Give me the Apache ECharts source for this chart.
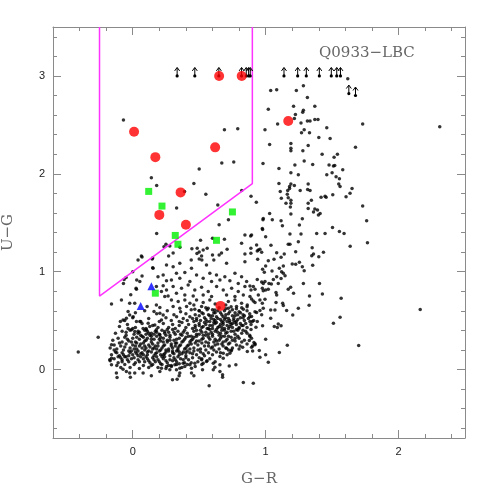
<!DOCTYPE html>
<html><head><meta charset="utf-8">
<script src="https://cdn.jsdelivr.net/npm/echarts@6/dist/echarts.min.js"></script>
<style>html,body{margin:0;padding:0;background:#fff}#c{width:491px;height:491px}</style>
</head><body><div id="c"></div>
<script>
// ---- DATA ----
const fieldGalaxies = [
[-0.07,2.55],[0.69,2.45],[0.79,2.46],[0.5,2.05],[0.67,2.11],[0.76,2.12],[0.14,1.96],[0.18,1.88],[0.46,1.9],[0.39,1.82],[0.55,1.79],[0.82,1.83],[0.89,1.77],[0.93,1.71],[0.33,1.65],[0.64,1.68],[0.72,1.53],[0.65,1.48],[0.18,1.39],[0.51,1.32],[0.69,1.33],[0.6,1.34],[0.25,1.28],[0.235,1.255],[0.445,1.235],[0.71,1.23],[0.5,1.2],[0.53,1.22],[0.355,1.25],[0.15,1.14],[0.27,1.16],[0.5,1.13],[0.52,1.12],[0.65,1.17],[0.04,1.12],[0.07,1.15],[0.0,1.0],[-0.05,0.94],[-0.07,0.88],[0.07,0.955],[0.15,1.04],[0.03,0.915],[-0.16,0.67],[-0.26,0.33],[-0.41,0.18],[-0.015,0.765],[0.025,0.83],
[1.618,2.97],[1.038,2.85],[1.083,2.86],[1.284,2.9],[1.231,2.85],[1.314,2.78],[1.02,2.66],[1.21,2.69],[1.37,2.69],[1.284,2.65],[1.279,2.63],[1.224,2.605],[1.09,2.51],[1.216,2.565],[1.266,2.52],[1.314,2.54],[1.334,2.54],[1.37,2.555],[1.394,2.555],[0.995,2.45],[1.73,2.51],[1.29,2.45],[1.27,2.42],[1.33,2.42],[1.46,2.47],[1.40,2.37],[1.485,2.36],[1.03,2.30],[1.19,2.31],[1.19,2.26],[1.19,2.235],[1.28,2.235],[1.32,2.29],[1.676,2.27],[1.425,2.20],[1.515,2.17],[1.54,2.2],[0.98,2.105],[1.10,2.055],[1.22,2.09],[1.29,2.13],[1.354,2.095],[1.477,2.09],[1.51,2.08],[1.52,2.085],[1.58,2.04],[1.19,2.01],[1.246,1.99],[1.46,1.99],[1.5,2.01],[1.53,1.97],[1.555,1.95],[1.1,1.9],[1.19,1.895],[1.18,1.87],[1.32,1.895],[1.55,1.895],[1.56,1.87],[1.65,1.85],[1.635,1.8],[1.605,1.765],[1.11,1.82],[1.166,1.83],[1.18,1.85],[1.216,1.88],[1.316,1.84],[1.334,1.83],[1.26,1.83],[1.447,1.77],[1.455,1.76],[1.505,1.785],[1.163,1.79],[1.17,1.755],[1.118,1.75],[1.19,1.73],[1.344,1.73],[1.73,1.67],[1.417,1.76],[1.153,1.70],[1.186,1.66],[1.19,1.70],[1.37,1.64],[1.36,1.61],[1.39,1.63],[1.41,1.595],[1.397,1.58],[1.32,1.645],[1.32,1.70],[1.03,1.595],[1.05,1.53],[0.98,1.53],[1.116,1.52],[1.19,1.59],[1.276,1.54],[1.384,1.39],[1.76,1.52],[0.977,1.43],[1.254,1.476],[1.183,1.384],[1.126,1.47],[1.503,1.45],[1.555,1.41],[1.59,1.39],[1.266,1.384],[1.447,1.39],[0.894,1.374],
[1.04,1.27],[1.17,1.28],[1.183,1.28],[1.246,1.306],[1.35,1.245],[1.636,1.26],[1.766,1.296],[0.937,1.21],[0.97,1.197],[0.889,1.187],[0.945,1.22],[1.083,1.194],[1.14,1.18],[1.226,1.204],[1.36,1.18],[1.347,1.163],[1.435,1.197],[1.40,1.153],[0.94,1.126],[1.02,1.112],[1.063,1.126],[1.116,1.146],[1.2,1.078],[1.226,1.075],[1.254,1.095],[1.133,1.058],[1.276,1.05],[1.29,1.01],[1.354,1.065],[1.0,1.058],[0.977,1.024],[0.99,0.993],[1.048,1.007],[1.103,1.034],[1.12,1.0],[1.133,0.983],[1.146,0.959],[1.083,0.949],[0.937,0.92],[1.116,0.929],[1.058,0.92],[0.97,0.895],[0.982,0.88],[0.995,0.898],[1.025,0.88],[1.043,0.874],[1.095,0.88],[1.284,0.88],[1.405,0.88],[0.882,0.854],[0.907,0.847],[0.92,0.82],[0.89,0.813],[0.975,0.83],[0.982,0.806],[1.0,0.813],[1.02,0.82],[1.078,0.786],[1.083,0.762],[1.17,0.82],[1.188,0.84],[1.21,0.779],[0.882,0.745],[0.894,0.72],[0.907,0.70],[0.92,0.684],[0.945,0.762],[0.957,0.711],[0.995,0.718],[1.33,0.752],[1.427,0.772],[1.568,0.728],[0.975,0.677],[0.982,0.626],[1.078,0.684],[1.128,0.677],[1.133,0.653],[1.246,0.626],[1.327,0.656],[0.957,0.602],[0.932,0.582],[1.038,0.609],[1.07,0.609],[1.158,0.602],[1.204,0.558],[1.038,0.524],[0.894,0.541],[0.882,0.49],[0.937,0.49],[0.927,0.432],[0.977,0.446],[1.065,0.439],[1.088,0.429],[1.095,0.466],[1.116,0.446],[1.51,0.473],[1.56,0.534],[0.882,0.337],[0.894,0.32],[0.912,0.276],[0.92,0.252],[0.902,0.24],[1.0,0.31],[1.163,0.248],[1.70,0.245],[0.902,0.19],[0.952,0.194],[1.0,0.15],[0.957,0.126],[1.103,0.173],[1.02,0.075],[0.907,-0.14],
[2.31,2.48],[2.163,0.612],
[0.844,1.374],[0.887,1.364],[0.819,1.289],[0.982,1.544],[0.975,1.442],[1.0,1.357],[0.889,1.238],[0.932,1.272],[0.957,1.228],[0.844,1.18],[0.485,1.238],[0.279,1.262],[0.56,1.238],[0.668,1.19],[0.304,1.19],[0.483,1.185],[0.44,1.12],[0.6,1.17],[0.61,1.12],
[0.065,1.16],[0.146,1.13],[0.153,1.034],[0.254,1.068],[0.229,0.966],[0.19,0.949],[0.254,0.908],[0.053,0.898],[-0.065,0.92],[0.028,0.82],[0.178,0.847],[0.229,0.857],[0.216,0.796],[0.254,0.813],[0.241,0.745],[0.266,0.752],[-0.085,0.71],[-0.023,0.677],[0.015,0.677],[0.108,0.643],[0.178,0.66],[0.204,0.633],[0.16,0.592],[0.204,0.575],[0.229,0.558],[-0.035,0.592],[-0.023,0.558],[0.003,0.54],[-0.093,0.49],[-0.073,0.507],[-0.048,0.524],[0.028,0.49],[0.053,0.49],[0.116,0.473],[0.128,0.439],[0.166,0.456],[0.216,0.507],[-0.035,0.42],[-0.01,0.405],[0.015,0.388],[0.04,0.371],[0.078,0.42],[0.103,0.405],[0.14,0.371],[0.178,0.405],[0.204,0.354],[0.241,0.388],
[-0.16,0.252],[-0.16,0.116],[-0.173,0.099],[-0.16,0.048],[-0.123,-0.037],[-0.118,-0.082],[-0.023,-0.037],[-0.018,-0.078],[-0.073,0.003],[-0.048,-0.02],[0.015,-0.037],[0.078,-0.037],[0.14,-0.065],[0.204,-0.02],[0.216,0.014],[0.254,0.031],[0.299,-0.105],[0.334,-0.099],[0.354,-0.037],[0.349,-0.065],[0.442,-0.037],[0.46,-0.065],[0.575,-0.167],[0.525,-0.003],[0.606,-0.003],[0.618,0.024],[0.656,-0.02],[0.676,-0.054],[0.676,-0.078],[0.726,0.037],[0.776,0.048],[0.832,-0.133],[0.862,0.184],[0.877,0.296],[0.92,0.262],[0.894,0.228],[0.807,0.24],[0.827,0.228],[0.731,0.167],[0.744,0.2],[0.706,0.218],[0.681,0.167],[0.656,0.133],[0.681,0.116],[0.606,0.065],[0.656,0.048],[0.53,0.065],[0.555,0.082],[0.518,0.099],[0.467,0.065],[0.43,0.048],[0.442,0.014],[0.379,0.065],[0.392,0.031],[0.354,0.014],[0.329,-0.003],[0.317,0.048],[0.291,0.031],[0.279,-0.003],
[0.518,1.16],[0.354,1.085],[0.304,1.05],[0.442,1.034],[0.555,1.068],[0.706,1.085],[0.844,1.10],
[0.329,0.983],[0.392,0.99],[0.48,0.966],[0.58,0.983],[0.63,0.966],[0.693,0.949],[0.769,0.983],[0.819,0.949],[0.291,0.915],[0.354,0.932],[0.43,0.898],[0.53,0.932],[0.593,0.898],[0.656,0.915],[0.731,0.908],[0.794,0.88],[0.857,0.898],
[0.304,0.847],[0.367,0.83],[0.417,0.864],[0.467,0.813],[0.518,0.84],[0.568,0.796],[0.631,0.847],[0.681,0.813],[0.744,0.83],[0.794,0.796],[0.844,0.847],[0.329,0.779],[0.392,0.762],[0.455,0.752],[0.53,0.762],[0.593,0.745],[0.706,0.762],[0.769,0.745],[0.832,0.762],
[0.291,0.711],[0.342,0.694],[0.392,0.711],[0.43,0.677],[0.48,0.711],[0.53,0.684],[0.58,0.711],[0.719,0.694],[0.769,0.711],[0.819,0.677],[0.304,0.643],[0.354,0.626],[0.405,0.643],[0.467,0.616],[0.518,0.643],[0.568,0.626],[0.618,0.609],[0.719,0.626],[0.781,0.643],[0.832,0.616],[0.862,0.66],[0.7,0.66],[0.62,0.67],[0.46,0.66],
[0.02,0.58],[0.09,0.6],[0.18,0.57],[0.26,0.6],[0.31,0.56],[0.36,0.59],[0.40,0.57],[0.44,0.61],[0.47,0.56],[0.50,0.6],[0.53,0.57],[0.56,0.61],[0.58,0.55],[0.61,0.58],[0.64,0.6],[0.67,0.56],[0.69,0.6],[0.72,0.57],[0.75,0.61],[0.77,0.55],[0.80,0.59],[0.83,0.56],[0.86,0.6],[0.88,0.57],[0.92,0.59],[0.97,0.56],
[-0.06,0.5],[0.0,0.53],[0.06,0.49],[0.12,0.52],[0.2,0.49],[0.25,0.53],[0.29,0.5],[0.33,0.54],[0.35,0.49],[0.38,0.52],[0.41,0.5],[0.43,0.54],[0.46,0.49],[0.48,0.52],[0.51,0.5],[0.54,0.53],[0.56,0.49],[0.59,0.52],[0.62,0.5],[0.63,0.54],[0.66,0.51],[0.68,0.48],[0.7,0.53],[0.73,0.5],[0.76,0.52],[0.78,0.49],[0.81,0.53],[0.84,0.5],[0.87,0.52],[0.9,0.49],
[-0.1,0.44],[-0.04,0.46],[0.02,0.43],[0.07,0.47],[0.1,0.42],[0.15,0.45],[0.19,0.43],[0.23,0.47],[0.27,0.43],[0.3,0.46],[0.32,0.42],[0.35,0.45],[0.37,0.48],[0.4,0.43],[0.42,0.46],[0.45,0.42],[0.47,0.45],[0.5,0.47],[0.52,0.43],[0.55,0.46],[0.57,0.42],[0.6,0.45],[0.61,0.48],[0.64,0.43],[0.66,0.46],[0.69,0.42],[0.71,0.45],[0.73,0.48],[0.75,0.43],[0.78,0.46],[0.8,0.42],[0.83,0.45],[0.86,0.43],[0.89,0.46],
[-0.13,0.37],[-0.08,0.39],[-0.05,0.35],[-0.02,0.4],[0.01,0.36],[0.04,0.39],[0.06,0.35],[0.09,0.4],[0.12,0.37],[0.14,0.34],[0.17,0.39],[0.2,0.36],[0.22,0.4],[0.25,0.35],[0.27,0.38],[0.3,0.41],[0.32,0.36],[0.34,0.39],[0.37,0.35],[0.39,0.4],[0.41,0.37],[0.44,0.34],[0.46,0.39],[0.48,0.36],[0.51,0.4],[0.53,0.35],[0.55,0.38],[0.58,0.41],[0.6,0.36],[0.62,0.39],[0.65,0.35],[0.67,0.4],[0.7,0.37],[0.72,0.34],[0.74,0.39],[0.77,0.36],[0.79,0.4],[0.82,0.37],[0.85,0.39],[0.88,0.35],
[-0.15,0.3],[-0.11,0.32],[-0.08,0.28],[-0.06,0.33],[-0.03,0.29],[0.0,0.32],[0.02,0.28],[0.05,0.31],[0.07,0.34],[0.09,0.29],[0.11,0.32],[0.14,0.28],[0.16,0.31],[0.18,0.34],[0.21,0.29],[0.23,0.32],[0.26,0.28],[0.28,0.33],[0.31,0.3],[0.33,0.27],[0.35,0.32],[0.38,0.29],[0.4,0.33],[0.43,0.28],[0.45,0.31],[0.48,0.34],[0.5,0.29],[0.53,0.32],[0.55,0.28],[0.58,0.31],[0.6,0.34],[0.63,0.29],[0.66,0.32],[0.68,0.28],[0.71,0.31],[0.74,0.33],[0.77,0.29],[0.8,0.32],[0.84,0.3],
[-0.17,0.22],[-0.14,0.25],[-0.12,0.21],[-0.09,0.24],[-0.07,0.2],[-0.05,0.26],[-0.02,0.22],[0.0,0.25],[0.03,0.21],[0.05,0.24],[0.08,0.27],[0.1,0.22],[0.12,0.25],[0.15,0.21],[0.17,0.24],[0.19,0.27],[0.22,0.22],[0.24,0.25],[0.27,0.21],[0.29,0.24],[0.32,0.27],[0.34,0.22],[0.36,0.25],[0.39,0.21],[0.41,0.24],[0.44,0.26],[0.46,0.22],[0.49,0.25],[0.51,0.21],[0.54,0.24],[0.57,0.27],[0.59,0.22],[0.62,0.25],[0.65,0.21],[0.68,0.24],[0.72,0.26],[0.75,0.22],[0.78,0.25],
[-0.16,0.15],[-0.13,0.18],[-0.1,0.14],[-0.08,0.17],[-0.05,0.13],[-0.03,0.19],[0.0,0.15],[0.02,0.18],[0.04,0.14],[0.07,0.17],[0.09,0.2],[0.11,0.15],[0.14,0.18],[0.16,0.14],[0.18,0.17],[0.21,0.2],[0.23,0.15],[0.25,0.18],[0.28,0.14],[0.3,0.17],[0.33,0.19],[0.35,0.15],[0.38,0.18],[0.4,0.14],[0.43,0.17],[0.46,0.19],[0.48,0.15],[0.51,0.18],[0.54,0.14],[0.57,0.17],[0.6,0.15],[0.63,0.18],
[-0.17,0.09],[-0.14,0.11],[-0.11,0.07],[-0.08,0.1],[-0.06,0.13],[-0.03,0.08],[-0.01,0.11],[0.02,0.07],[0.04,0.1],[0.06,0.13],[0.09,0.08],[0.11,0.11],[0.13,0.07],[0.16,0.1],[0.18,0.13],[0.2,0.08],[0.23,0.11],[0.26,0.07],[0.28,0.1],[0.31,0.12],[0.33,0.08],[0.36,0.11],[0.39,0.07],[0.42,0.1],[0.45,0.12],[0.49,0.08],[0.52,0.11],[0.56,0.09],
[-0.12,0.04],[-0.09,0.02],[-0.06,0.05],[-0.02,0.02],[0.01,0.05],[0.05,0.01],[0.08,0.04],[0.12,0.02],[0.15,0.05],[0.19,0.02],[0.22,0.05],[0.25,0.01],[0.29,0.04],[0.33,0.05],[0.37,0.02],[0.41,0.05],[0.47,0.03],[0.52,0.05],
[-0.1,0.27],[-0.06,0.23],[-0.01,0.28],[0.03,0.33],[0.06,0.26],[0.1,0.3],[0.13,0.35],[0.15,0.26],[0.2,0.31],[0.24,0.37],[0.26,0.3],[0.29,0.26],[0.33,0.31],[0.36,0.36],[0.39,0.31],[0.42,0.25],[0.44,0.3],[-0.12,0.17],[-0.07,0.15],[-0.02,0.17],[0.01,0.21],[0.04,0.19],[0.08,0.15],[0.12,0.19],[0.17,0.16],[0.2,0.19],[0.24,0.16],[0.27,0.19],[0.31,0.16],[0.34,0.2],[0.37,0.16],[0.41,0.19],[0.45,0.16],[-0.09,0.12],[-0.04,0.1],[0.01,0.12],[0.05,0.08],[0.08,0.11],[0.12,0.09],[0.15,0.12],[0.19,0.1],[0.22,0.13],[0.25,0.09],[0.3,0.09],[0.34,0.13],[0.38,0.1],[0.05,0.38],[0.1,0.36],[0.18,0.38],[0.21,0.33],[0.28,0.35],[0.02,0.24],[0.07,0.22],[0.13,0.23],[0.18,0.21],[0.23,0.24],[0.3,0.22],[0.35,0.24],[0.4,0.22],[0.47,0.27],[0.52,0.27],[0.57,0.24],[0.61,0.2],
[0.48,0.4],[0.52,0.38],[0.56,0.42],[0.59,0.38],[0.63,0.41],[0.66,0.37],[0.69,0.4],[0.72,0.42],[0.76,0.39],[0.8,0.43],[0.83,0.4],[0.5,0.45],[0.54,0.48],[0.58,0.45],[0.62,0.47],[0.65,0.44],[0.68,0.46],[0.71,0.49],[0.74,0.46],[0.77,0.48],[0.81,0.47],[0.85,0.47],[0.45,0.52],[0.5,0.55],[0.55,0.51],[0.6,0.55],[0.64,0.52],[0.68,0.54],[0.72,0.52],[0.75,0.55],[0.79,0.51],[0.83,0.53],[0.88,0.54],[0.5,0.6],[0.55,0.63],[0.6,0.61],[0.65,0.63],[0.7,0.62],[0.74,0.64],[0.78,0.62],[0.82,0.63],[0.86,0.64],[0.57,0.33],[0.62,0.31],[0.67,0.34],[0.7,0.29],[0.75,0.3],[0.79,0.34],[0.82,0.28],[0.64,0.26],[0.7,0.22],[0.74,0.19],[0.8,0.21],[0.55,0.2],[0.66,0.17],[0.71,0.15],[0.58,0.11],[0.62,0.08],[0.86,0.26],[0.89,0.41],[0.91,0.5],
[-0.14,0.2],[-0.11,0.13],[-0.04,0.31],[-0.01,0.19],[0.03,0.27],[0.06,0.16],[0.09,0.24],[0.11,0.18],[0.14,0.31],[0.16,0.22],[0.19,0.24],[0.21,0.15],[0.23,0.28],[0.25,0.2],[0.28,0.3],[0.3,0.19],[0.32,0.24],[0.35,0.18],[0.37,0.28],[0.4,0.17],[0.43,0.21],[-0.08,0.08],[-0.03,0.14],[0.03,0.16],[0.1,0.13],[0.14,0.04],[0.17,0.08],[0.21,0.06],[0.24,0.13],[0.27,0.04],[0.32,0.1],[0.35,0.06],[0.4,0.12],[0.44,0.07],[-0.05,0.38],[0.0,0.42],[0.08,0.33],[0.11,0.39],[0.16,0.36],[0.26,0.41],[0.31,0.38],[0.38,0.38],[0.42,0.34],[0.46,0.33],[0.49,0.2],[0.5,0.12],[0.53,0.16],[0.48,0.29],
[0.47,0.43],[0.5,0.36],[0.53,0.44],[0.57,0.36],[0.6,0.42],[0.61,0.51],[0.64,0.38],[0.67,0.43],[0.69,0.51],[0.71,0.38],[0.73,0.44],[0.76,0.5],[0.78,0.41],[0.79,0.56],[0.82,0.45],[0.84,0.55],[0.86,0.37],[0.52,0.58],[0.57,0.56],[0.62,0.58],[0.66,0.58],[0.7,0.56],[0.73,0.59],[0.77,0.58],[0.81,0.58],[0.58,0.49],[0.63,0.48],[0.67,0.49],[0.75,0.47],[0.48,0.5],[0.55,0.35],[0.61,0.28],[0.65,0.3],[0.69,0.34],[0.73,0.27],[0.77,0.32],[0.6,0.23],[0.67,0.26],[0.72,0.2],[0.52,0.31]
];
const redX = [0.65, 0.82, 1.17, 0.01, 0.62, 0.17, 0.36, 0.20, 0.40, 0.66];
const redY = [3.00, 3.00, 2.54, 2.43, 2.27, 2.17, 1.81, 1.58, 1.48, 0.65];
const greenX = [0.12, 0.22, 0.75, 0.32, 0.63, 0.34, 0.17];
const greenY = [1.82, 1.67, 1.61, 1.37, 1.32, 1.28, 0.78];
const blueX = [0.14, 0.06];
const blueY = [0.85, 0.65];
const limitX = [0.334,0.467,0.648,0.819,0.854,0.872,0.884,1.138,1.241,1.306,1.404,1.494,1.535,1.563,1.626,1.676];
const limitY = [3,3,3,3,3,3,3,3,3,3,3,3,3,3,2.82,2.80];
const boxX = [-0.25, -0.25, 0.9, 0.9];
const boxY = [3.5, 0.75, 1.9, 3.5];
const xMajor = [0, 1, 2];
const xMinor = [-0.4,-0.2,0.2,0.4,0.6,0.8,1.2,1.4,1.6,1.8,2.2,2.4];
const yMajor = [0, 1, 2, 3];
const yMinor = [-0.6,-0.4,-0.2,0.2,0.4,0.6,0.8,1.2,1.4,1.6,1.8,2.2,2.4,2.6,2.8,3.2,3.4];

// ---- CHART ----
const zip = (a, b) => a.map((v, i) => [v, b[i]]);
const frame = '#8a8a8a';
const labelStyle = {color: '#222', fontFamily: 'Liberation Sans', fontSize: 11};
function mkAxis(pos, ticks, len, showLine, labels, extra) {
  return Object.assign({
    type: 'value', position: pos,
    splitLine: {show: false},
    axisLine: {show: showLine, onZero: false, lineStyle: {color: frame, width: 1}},
    axisTick: {show: true, inside: true, length: len, customValues: ticks, lineStyle: {color: frame, width: 1}},
    axisLabel: labels ? Object.assign({show: true, customValues: labels}, labelStyle) : {show: false}
  }, extra);
}
const xr = {min: -0.6, max: 2.5};
const yr = {min: -0.7, max: 3.5};
const nameFont = {fontFamily: 'DejaVu Serif', fontSize: 15, color: '#666'};
const chart = echarts.init(document.getElementById('c'), null, {renderer: 'canvas'});
chart.setOption({
  animation: false,
  backgroundColor: '#fff',
  title: {text: 'Q0933\u2212LBC', left: 319, top: 46, padding: 0,
    textStyle: {fontFamily: 'DejaVu Serif', fontSize: 15, fontWeight: 'normal', color: '#666'}},
  grid: {left: 53, right: 26, top: 27, bottom: 53, outerBoundsMode: 'none', containLabel: false},
  xAxis: [
    mkAxis('bottom', xMajor, 8, true, xMajor, Object.assign({name: 'G\u2212R', nameLocation: 'middle', nameGap: 34, nameTextStyle: nameFont}, xr)),
    mkAxis('bottom', xMinor, 4, false, null, xr),
    mkAxis('top', xMajor, 8, true, null, xr),
    mkAxis('top', xMinor, 4, false, null, xr)
  ],
  yAxis: [
    mkAxis('left', yMajor, 8, true, yMajor, Object.assign({name: 'U\u2212G', nameLocation: 'middle', nameGap: 37, nameTextStyle: nameFont}, yr)),
    mkAxis('left', yMinor, 4, false, null, yr),
    mkAxis('right', yMajor, 8, true, null, yr),
    mkAxis('right', yMinor, 4, false, null, yr)
  ],
  series: [
    {type: 'scatter', data: fieldGalaxies, symbol: 'circle', symbolSize: 3.5, itemStyle: {color: '#000'}, z: 2},
    {type: 'line', data: zip(boxX, boxY), symbol: 'none', lineStyle: {color: '#ff33ff', width: 1.5}, z: 3},
    {type: 'custom', data: zip(limitX, limitY), z: 4,
      renderItem: function (params, api) {
        const p = api.coord([api.value(0), api.value(1)]);
        return {type: 'group', children: [
          {type: 'circle', shape: {cx: p[0], cy: p[1], r: 1.6}, style: {fill: '#000'}},
          {type: 'polyline', shape: {points: [[p[0], p[1]], [p[0], p[1] - 8]]}, style: {stroke: '#000', lineWidth: 1, fill: null}},
          {type: 'polyline', shape: {points: [[p[0] - 2.5, p[1] - 5], [p[0], p[1] - 8.5], [p[0] + 2.5, p[1] - 5]]}, style: {stroke: '#000', lineWidth: 1, fill: null}}
        ]};
      }},
    {type: 'scatter', data: zip(redX, redY), symbol: 'circle', symbolSize: 10, itemStyle: {color: '#ff0000'}, z: 5},
    {type: 'scatter', data: zip(greenX, greenY), symbol: 'rect', symbolSize: 7, itemStyle: {color: '#00ee00'}, z: 5},
    {type: 'scatter', data: zip(blueX, blueY), symbol: 'triangle', symbolSize: 8, itemStyle: {color: '#0000ff'}, z: 5}
  ]
});
</script>
</body></html>
